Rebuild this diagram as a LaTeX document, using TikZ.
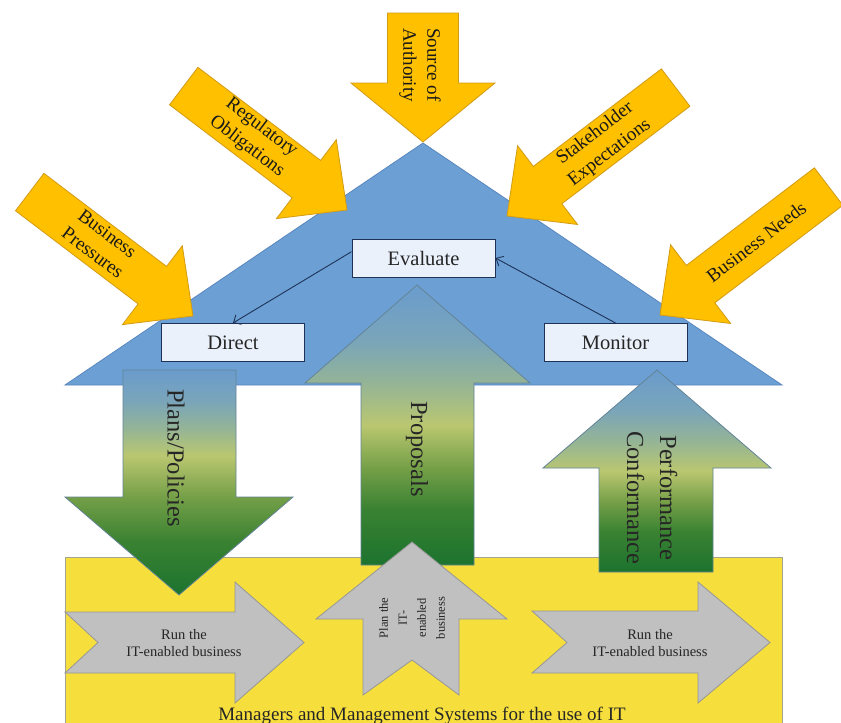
\documentclass[tikz,border=0pt]{standalone}
\usepackage{fontspec}
\setmainfont{Liberation Serif}
\usetikzlibrary{arrows.meta,calc}

% palette
\definecolor{triblue}{RGB}{108,160,212}
\definecolor{triedge}{RGB}{88,134,190}
\definecolor{gold}{RGB}{255,192,0}
\definecolor{goldedge}{RGB}{210,155,20}
\definecolor{basey}{RGB}{246,223,60}
\definecolor{baseedge}{RGB}{165,165,140}
\definecolor{boxfill}{RGB}{234,241,251}
\definecolor{navy}{RGB}{30,50,88}
\definecolor{grayfill}{RGB}{192,192,192}
\definecolor{grayedge}{RGB}{150,150,150}
\definecolor{flowedge}{RGB}{100,132,150}
% vertical ramp for the flow arrows: dark green at the bottom, blue at the top
\definecolor{gA}{RGB}{28,115,46}
\definecolor{gB}{RGB}{58,130,50}
\definecolor{gC}{RGB}{118,160,72}
\definecolor{gD}{RGB}{186,199,112}
\definecolor{gE}{RGB}{148,180,150}
\definecolor{gF}{RGB}{122,165,185}
\definecolor{gG}{RGB}{106,156,205}
\pgfdeclareverticalshading{flowshade}{100bp}{color(0bp)=(gA); color(25bp)=(gA); color(35bp)=(gB); color(42.5bp)=(gC); color(50bp)=(gD); color(57.5bp)=(gE); color(65bp)=(gF); color(75bp)=(gG); color(100bp)=(gG)}
% same ramp with the light band set higher, for the downward arrow
\pgfdeclareverticalshading{flowshadedown}{100bp}{color(0bp)=(gA); color(25bp)=(gA); color(37bp)=(gB); color(47bp)=(gC); color(56bp)=(gD); color(62bp)=(gE); color(68bp)=(gF); color(75bp)=(gG); color(100bp)=(gG)}

% block arrow with its tip at the local origin, pointing along +x
% #1 style, #2 total length, #3 shaft width, #4 head width, #5 head length
\newcommand{\blockarrow}[5]{%
  \draw[#1] (0,0) -- (-#5,#4/2) -- (-#5,#3/2) -- (-#2,#3/2) -- (-#2,-#3/2)
    -- (-#5,-#3/2) -- (-#5,-#4/2) -- cycle;}

\begin{document}
\begin{tikzpicture}[x=1pt,y=-1pt,
  goldarrow/.style={fill=gold,draw=goldedge,line width=0.8pt,line join=miter},
  goldtext/.style={align=center,text=black!90,inner sep=0pt,
    font=\fontsize{19}{24}\selectfont},
  flowarrow/.style={shading=flowshade,draw=flowedge,line width=0.8pt},
  flowtext/.style={align=center,text=black!85,inner sep=0pt,
    font=\fontsize{24.5}{33}\selectfont},
  grayarrow/.style={fill=grayfill,draw=grayedge,line width=0.8pt},
  stepbox/.style={draw=navy,fill=boxfill,line width=1pt,minimum width=143pt,
    minimum height=38pt,inner sep=0pt,font=\fontsize{20.5}{24}\selectfont,text=black!85},
  link/.style={draw=navy,line width=0.9pt,-{Straight Barb[length=6pt,width=11pt]}},
  runtext/.style={align=center,text=black!85,inner sep=0pt,
    font=\fontsize{14.5}{17}\selectfont},
]
\useasboundingbox (0,0) rectangle (841,723);
\fill[white] (0,0) rectangle (841,723);

% management layer
\draw[fill=basey,draw=baseedge,line width=0.8pt] (65,557) rectangle (782,735);

% governance roof
\draw[fill=triblue,draw=triedge,line width=0.8pt] (65,385) -- (423,143) -- (782,385) -- cycle;

% external drivers
\begin{scope}[shift={(423,142)},rotate=-90]
  \blockarrow{goldarrow}{129}{71}{144}{59}
  \node[goldtext,rotate=-90] (srcTxt) at (-77,3) {Source of\\Authority};
\end{scope}
\begin{scope}[shift={(347,210)},rotate=-37.2]
  \blockarrow{goldarrow}{205}{47}{99}{51}
  \node[goldtext,rotate=-37.2] (regTxt) at (-118,-2) {Regulatory\\Obligations};
\end{scope}
\begin{scope}[shift={(193,316)},rotate=-37.2]
  \blockarrow{goldarrow}{205}{47}{99}{51}
  \node[goldtext,rotate=-37.2] (bpTxt) at (-118,-2) {Business\\Pressures};
\end{scope}
\begin{scope}[shift={(507,216)},rotate=-142.7]
  \blockarrow{goldarrow}{212}{47}{99}{51}
  \node[goldtext,rotate=37.3] (stkTxt) at (-120,0) {Stakeholder\\Expectations};
\end{scope}
\begin{scope}[shift={(660,315)},rotate=-142.7]
  \blockarrow{goldarrow}{212}{47}{99}{51}
  \node[goldtext,rotate=37.3] (bnTxt) at (-121,0) {Business Needs};
\end{scope}

% governance activities
\node[stepbox] (evalBox) at (423.5,258) {Evaluate};
\node[stepbox] (directBox) at (233,342.5) {Direct};
\node[stepbox] (monitorBox) at (615.5,342.5) {Monitor};
\draw[link] (evalBox.175) -- (directBox.north);
\draw[link] (monitorBox.north) -- (evalBox.east);

% flows between governance and management
\shadedraw[flowarrow,shading=flowshadedown] (123,370) -- (236,370) -- (236,497)
  -- (293,497) -- (179,595) -- (65,497) -- (123,497) -- cycle;
\shadedraw[flowarrow] (417,285) -- (530,383) -- (474,383) -- (474,565) -- (361,565)
  -- (361,383) -- (305,383) -- cycle;
\shadedraw[flowarrow] (657,370) -- (771,468) -- (713,468) -- (713,572) -- (599,572)
  -- (599,468) -- (543,468) -- cycle;
\node[flowtext,rotate=-90] (plansTxt) at (176,458) {Plans/Policies};
\node[flowtext,rotate=-90] (propTxt) at (417,449) {Proposals};
\node[flowtext,rotate=-90] (perfTxt) at (652,498) {Performance\\Conformance};

% management activities
\draw[grayarrow] (65,612) -- (235,612) -- (235,582) -- (304,642.5) -- (235,703)
  -- (235,673) -- (65,673) -- (98,642.5) -- cycle;
\draw[grayarrow] (532,611) -- (698,611) -- (698,582) -- (770,642.5) -- (698,703)
  -- (698,673) -- (532,673) -- (567,642.5) -- cycle;
\draw[grayarrow] (412,542) -- (507,619) -- (459,619) -- (459,695) -- (412,660)
  -- (363,695) -- (363,619) -- (316,619) -- cycle;
\node[runtext] (runLTxt) at (184,643) {Run the\\IT-enabled business};
\node[runtext] (runRTxt) at (650,643) {Run the\\IT-enabled business};
\node[align=center,text=black!85,inner sep=0pt,rotate=90,
  font=\fontsize{12.5}{19}\selectfont] (planTxt) at (412,618)
  {Plan the\\IT-\\enabled\\business};

\node[anchor=base,inner sep=0pt,text=black!85,font=\fontsize{19}{22}\selectfont]
  (mgmtTxt) at (422,720.5) {Managers and Management Systems for the use of IT};
\end{tikzpicture}
\end{document}
